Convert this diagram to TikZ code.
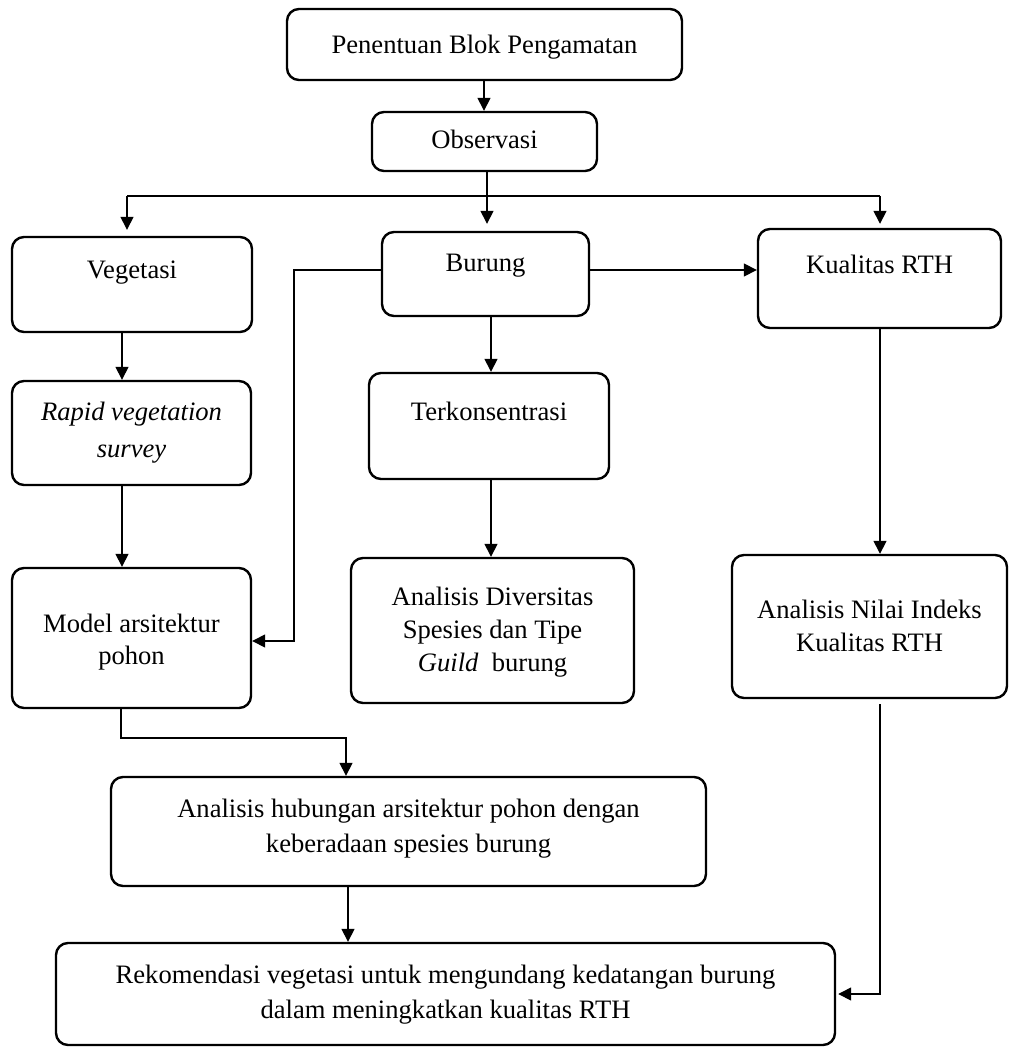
\documentclass[tikz,border=0pt]{standalone}
\usepackage{fontspec}
\setmainfont{Liberation Serif}
\usetikzlibrary{arrows.meta}
\tikzset{
  box/.style={draw, line width=2.4pt, rounded corners=12pt, inner sep=0pt},
  conn/.style={line width=1.5pt},
  arr/.style={conn, -{Triangle[length=13pt,width=13pt]}},
  txt/.style={anchor=base, inner sep=0pt, font=\fontsize{26.6}{32}\selectfont},
}
\newcommand\mkbox[5]{\node[box, minimum width={(#4-#2)*1pt}, minimum height={(#5-#3)*1pt}] (#1) at ({(#2+#4)/2},{(#3+#5)/2}) {};}
\newcommand\tline[4]{\node[txt] (#1) at (#2,#3) {#4};}
\begin{document}
\begin{tikzpicture}[x=1pt,y=-1pt]
\fill[white] (0,0) rectangle (1009,1048);
\useasboundingbox (0,0) rectangle (1009,1048);

% boxes
\mkbox{pen}{287}{9}{682}{80}
\mkbox{obs}{372}{112}{597}{171}
\mkbox{veg}{12}{237}{252}{332}
\mkbox{bur}{382}{232}{589}{316}
\mkbox{kua}{758}{229}{1001}{328}
\mkbox{rapid}{12}{381}{251}{485}
\mkbox{model}{12}{568}{251}{708}
\mkbox{terk}{369}{373}{609}{479}
\mkbox{div}{351}{558}{634}{703}
\mkbox{nilai}{732}{555}{1007}{698}
\mkbox{hub}{111}{777}{706}{886}
\mkbox{rek}{56}{943}{835}{1045}

% texts
\tline{tpen}{484.5}{54}{Penentuan Blok Pengamatan}
\tline{tobs}{484.5}{149}{Observasi}
\tline{tveg}{132}{279}{Vegetasi}
\tline{tbur}{485.5}{272}{Burung}
\tline{tkua}{879.5}{273}{Kualitas RTH}
\tline{trapA}{131.5}{420}{\itshape Rapid vegetation}
\tline{trapB}{131.5}{457}{\itshape survey}
\tline{tterk}{489}{420}{Terkonsentrasi}
\tline{tmodA}{131.5}{632}{Model arsitektur}
\tline{tmodB}{131.5}{664}{pohon}
\tline{tdivA}{492.5}{605}{Analisis Diversitas}
\tline{tdivB}{492.5}{638}{Spesies dan Tipe}
\tline{tdivC}{492.5}{671}{\textit{Guild}\ \ burung}
\tline{tnilA}{869.5}{618}{Analisis Nilai Indeks}
\tline{tnilB}{869.5}{651}{Kualitas RTH}
\tline{thubA}{408.5}{817}{Analisis hubungan arsitektur pohon dengan}
\tline{thubB}{408.5}{852}{keberadaan spesies burung}
\tline{trekA}{445.5}{983}{Rekomendasi vegetasi untuk mengundang kedatangan burung}
\tline{trekB}{445.5}{1018}{dalam meningkatkan kualitas RTH}

% coordinates
\coordinate (xA) at (484,0);
\coordinate (sp) at (487,196);
\coordinate (sl) at (127,196);
\coordinate (sr) at (880,196);
\coordinate (yb) at (0,270);
\coordinate (bl) at (294,270);
\coordinate (bm) at (294,641);
\coordinate (xv) at (122,0);
\coordinate (xb) at (491,0);
\coordinate (xk) at (880,0);
\coordinate (nr) at (880,994);
\coordinate (m1) at (121,738);
\coordinate (m2) at (346,738);
\coordinate (xh) at (348,0);

% connectors
\draw[arr] (pen.south -| xA) -- (obs.north -| xA);
\draw[conn] (obs.south -| sp) -- (sp);
\draw[conn] (sl) -- (sr);
\draw[arr] (sl) -- ([yshift=6pt]veg.north -| sl);
\draw[arr] (sp) -- ([yshift=7pt]bur.north -| sp);
\draw[arr] (sr) -- ([yshift=4pt]kua.north -| sr);
\draw[arr] (bur.east |- yb) -- (kua.west |- yb);
\draw[arr] (bur.west |- bl) -- (bl) -- (bm) -- (model.east |- bm);
\draw[arr] (veg.south -| xv) -- (rapid.north -| xv);
\draw[arr] (rapid.south -| xv) -- (model.north -| xv);
\draw[arr] (bur.south -| xb) -- (terk.north -| xb);
\draw[arr] (terk.south -| xb) -- (div.north -| xb);
\draw[arr] (kua.south -| xk) -- (nilai.north -| xk);
\draw[arr] ([yshift=-5pt]nilai.south -| nr) -- (nr) -- ([xshift=2pt]rek.east |- nr);
\draw[arr] (model.south -| m1) -- (m1) -- (m2) -- (hub.north -| m2);
\draw[arr] (hub.south -| xh) -- (rek.north -| xh);
\end{tikzpicture}
\end{document}
